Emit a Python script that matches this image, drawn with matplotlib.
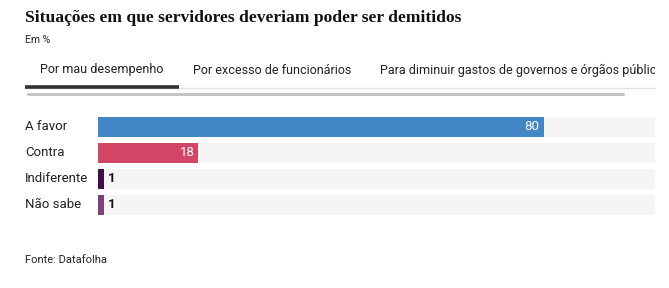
import matplotlib.pyplot as plt
from matplotlib.patches import FancyBboxPatch
from matplotlib.lines import Line2D

categories = ['A favor', 'Contra', 'Indiferente', 'Não sabe']
values = [80, 18, 1, 1]
colors = ['#4286c6', '#d24564', '#3d1148', '#7c407d']
tabs = ['Por mau desempenho', 'Por excesso de funcionários',
        'Para diminuir gastos de governos e órgãos públicos']

W, H = 669, 288
fig = plt.figure(figsize=(W / 100, H / 100), dpi=100)
fig.patch.set_facecolor('white')

sans = ['Liberation Sans Narrow', 'Roboto', 'DejaVu Sans']


def px(x, y):
    return x / W, 1 - y / H


# header
fig.text(*px(25, 18), 'Situações em que servidores deveriam poder ser demitidos',
         family=['Liberation Serif', 'DejaVu Serif'], weight='bold', fontsize=12.6,
         va='center', ha='left', color='#111111')
fig.text(*px(25, 40), 'Em %', family=sans, fontsize=7.5, va='center', color='#222222')

# tab strip, clipped at the right edge like the original
tab_ax = fig.add_axes([0, 1 - 80 / H, 655 / W, 20 / H])
tab_ax.set_xlim(0, 655)
tab_ax.set_ylim(0, 1)
tab_ax.axis('off')
tab_x = [40, 193, 380]
for x, t in zip(tab_x, tabs):
    tab_ax.text(x, 0.5, t, family=sans, fontsize=9.0, va='center', color='#222222',
                clip_on=True)

fig.add_artist(Line2D([25 / W, 655 / W], [1 - 88 / H] * 2, color='#e2e2e2', lw=1))
fig.add_artist(Line2D([25 / W, 179 / W], [1 - 87 / H] * 2, color='#333333', lw=2.6,
                      solid_capstyle='butt'))
fig.add_artist(FancyBboxPatch((27 / W, 1 - 96 / H), 598 / W, 3 / H,
                              boxstyle='round,pad=0,rounding_size=0.004',
                              transform=fig.transFigure, color='#c4c4c4', lw=0))

# bars
ax = fig.add_axes([98 / W, 1 - 218 / H, (655 - 98) / W, 104 / H])
ypos = list(range(len(categories)))
ax.barh(ypos, [100] * len(values), height=0.77, color='#f5f5f5', zorder=1)
ax.barh(ypos, values, height=0.77, color=colors, zorder=2)
ax.set_xlim(0, 100)
ax.set_ylim(3.5, -0.5)
ax.axis('off')

for y, v, c in zip(ypos, values, categories):
    if v > 5:
        ax.text(v - 0.7, y, str(v), color='white', fontsize=9.5, family=sans,
                va='center', ha='right', zorder=3)
    else:
        ax.text(v + 0.8, y, str(v), color='#111111', fontsize=9.5, family=sans,
                weight='bold', va='center', ha='left', zorder=3)
    ax.text(-73 / 557 * 100, y, c, family=sans, fontsize=9.5, va='center', ha='left',
            color='#222222', clip_on=False)

fig.text(*px(25, 260), 'Fonte: Datafolha', family=sans, fontsize=8, va='center',
         color='#222222')

fig.savefig('out.png', dpi=100)
